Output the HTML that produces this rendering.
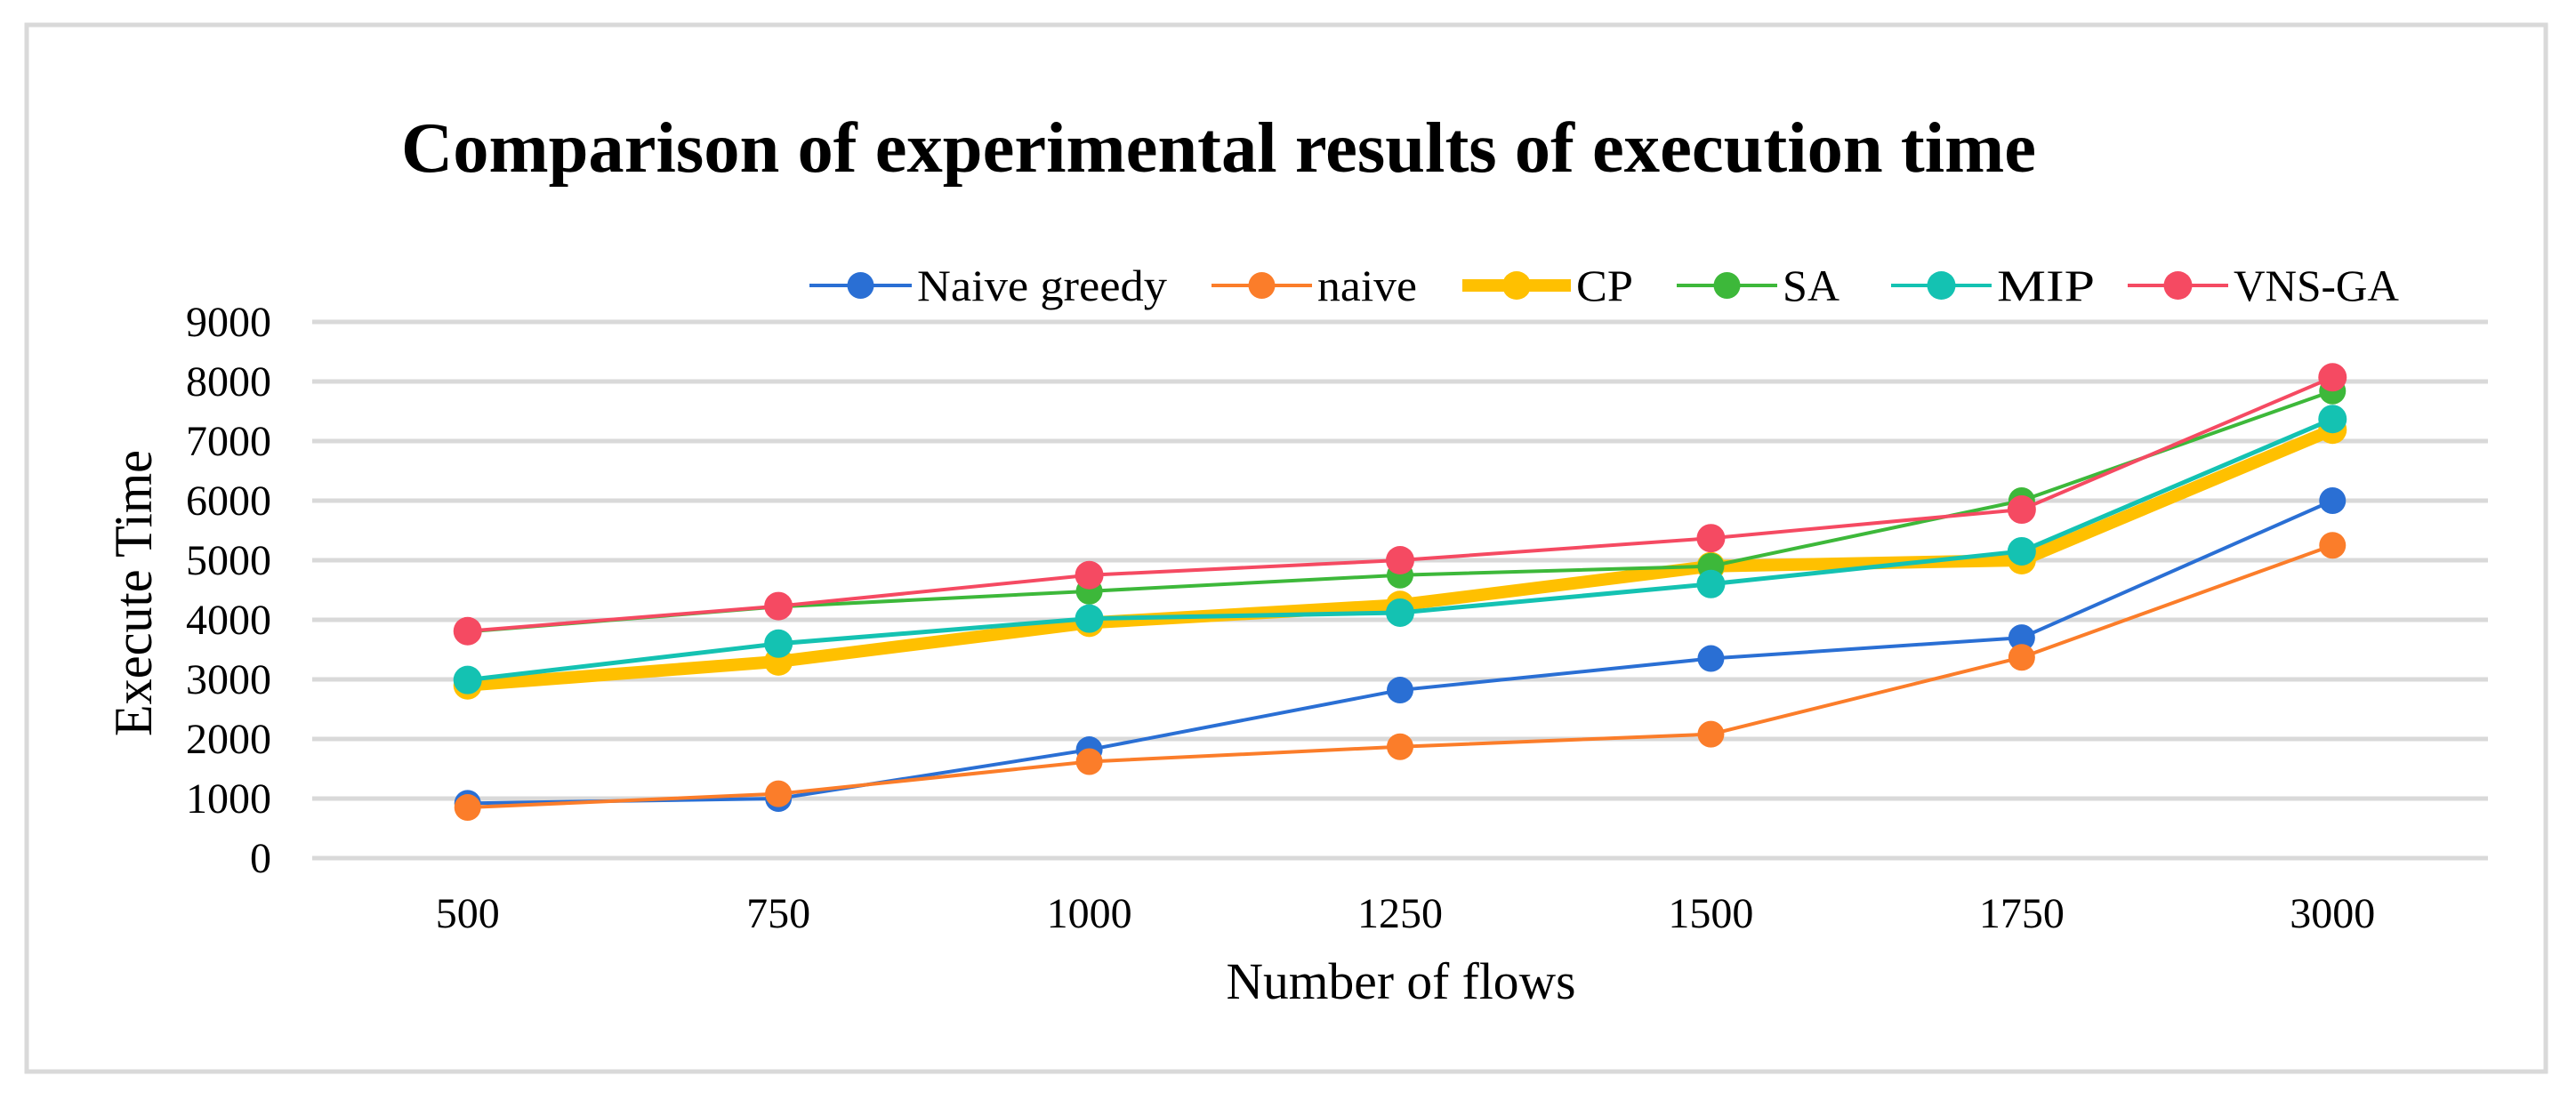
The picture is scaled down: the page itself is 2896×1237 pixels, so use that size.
<!DOCTYPE html>
<html><head><meta charset="utf-8"><style>
html,body{margin:0;padding:0;background:#fff;}
svg{display:block;font-family:"Liberation Serif",serif;}
</style></head><body>
<svg id="chart" width="2896" height="1237" viewBox="0 0 2896 1237" xmlns="http://www.w3.org/2000/svg">
<rect x="30" y="28" width="2832" height="1177" fill="#fff" stroke="#d9d9d9" stroke-width="5"/>
<text x="451" y="193" font-size="80" font-weight="bold" textLength="1838" lengthAdjust="spacingAndGlyphs">Comparison of experimental results of execution time</text>
<g id="grid"></g>
<g id="yticks"></g>
<g id="xticks"></g>
<text transform="translate(170,667) rotate(-90)" text-anchor="middle" font-size="60" textLength="322" lengthAdjust="spacingAndGlyphs">Execute Time</text>
<text x="1575" y="1123" text-anchor="middle" font-size="58" textLength="393" lengthAdjust="spacingAndGlyphs">Number of flows</text>
<g id="series"></g>
<g id="legend"></g>
</svg>
<script>
const categories = ["500","750","1000","1250","1500","1750","3000"];
const yTicks = [0,1000,2000,3000,4000,5000,6000,7000,8000,9000];
const naiveGreedy = [920,1000,1820,2820,3350,3700,6000];
const naive = [850,1080,1620,1870,2080,3370,5250];
const cp = [2900,3300,3950,4250,4900,5000,7190];
const sa = [3800,4220,4480,4750,4900,6000,7840];
const mip = [2990,3600,4020,4120,4600,5150,7370];
const vnsGa = [3810,4230,4750,5000,5370,5850,8070];
const seriesNames = ["Naive greedy","naive","CP","SA","MIP","VNS-GA"];

const NS="http://www.w3.org/2000/svg";
const plotL=351, plotR=2797, yTop=362, yBot=965, yMax=9000;
const band=(plotR-plotL)/categories.length;
function xPos(i){return plotL+band*(i+0.5);}
function yPos(v){return yBot-(v/yMax)*(yBot-yTop);}
function mk(tag,attrs,parent){const e=document.createElementNS(NS,tag);for(const k in attrs)e.setAttribute(k,attrs[k]);parent.appendChild(e);return e;}

const grid=document.getElementById('grid'), yt=document.getElementById('yticks'), xt=document.getElementById('xticks');
yTicks.forEach(v=>{
  const l=mk('line',{x1:plotL,x2:plotR,y1:yPos(v),y2:yPos(v),stroke:'#d9d9d9','stroke-width':5},grid);
  
  
  const t=mk('text',{x:305,y:yPos(v)+16,'text-anchor':'end','font-size':48},yt);
  t.textContent=String(v);
  
  
});
categories.forEach((c,i)=>{
  const t=mk('text',{x:xPos(i),y:1043,'text-anchor':'middle','font-size':48},xt);
  t.textContent=c;
  
  
});

const seriesData=[naiveGreedy,naive,cp,sa,mip,vnsGa];
const colors=["#2a6fd4","#fb7d2a","#ffc000","#3db83a","#14c2b2","#f54a62"];
const widths=[4,4,14,4,5,4];
const radii=[15,15,16,15,16,16];
const sg=document.getElementById('series');
seriesData.forEach((data,s)=>{
  const g=mk('g',{},sg);
  
  
  const pts=data.map((v,i)=>xPos(i)+','+yPos(v)).join(' ');
  const pl=mk('polyline',{points:pts,fill:'none',stroke:colors[s],'stroke-width':widths[s],'stroke-linejoin':'round'},g);
  
  
  data.forEach((v,i)=>{
    const c=mk('circle',{cx:xPos(i),cy:yPos(v),r:radii[s],fill:colors[s]},g);
    
    
  });
});

const legendLineX=[910,1362,1644,1885,2126,2392];
const legendLineW=[115,113,122,113,113,113];
const legendTextW=[281,112,64,64,110,186];
const lg=document.getElementById('legend');
seriesNames.forEach((n,s)=>{
  const g=mk('g',{},lg);
  
  
  const x0=legendLineX[s], w=legendLineW[s], cy=321;
  mk('line',{x1:x0,x2:x0+w,y1:cy,y2:cy,stroke:colors[s],'stroke-width':widths[s]===14?14:4},g);
  mk('circle',{cx:x0+w/2,cy:cy,r:radii[s],fill:colors[s]},g);
  const t=mk('text',{x:x0+w+6,y:338,'font-size':50,textLength:legendTextW[s],lengthAdjust:'spacingAndGlyphs'},g);
  t.textContent=n;
});
</script>
</body></html>
